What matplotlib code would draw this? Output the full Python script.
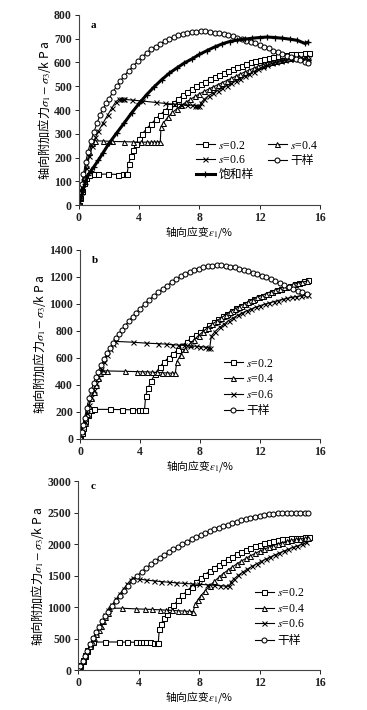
import matplotlib
matplotlib.use('Agg')
from matplotlib import pyplot as plt

plt.rcParams['font.family'] = ['Liberation Serif', 'Noto Sans CJK SC']
plt.rcParams['mathtext.fontset'] = 'stix'

# ---- panel a ----
a_s02_x = [0, 0.1, 0.2, 0.35, 0.5, 0.7, 1.0, 1.3, 1.9, 2.6, 2.95, 3.1, 3.2,
           3.3, 3.45, 3.6, 3.8, 4.0, 4.2, 4.5, 4.8, 5.1, 5.4, 5.7, 6.0, 6.3, 6.6, 6.9,
           7.2, 7.5, 7.8, 8.1, 8.4, 8.7, 9.0, 9.3, 9.6, 9.9, 10.2, 10.5, 10.8, 11.1,
           11.4, 11.7, 12.0, 12.3, 12.6, 12.9, 13.2, 13.5, 13.8, 14.1, 14.4, 14.7, 15.0, 15.3]
a_s02_y = [0, 30, 60, 95, 115, 126, 130, 130, 131, 129, 130, 131, 132,
           175, 205, 232, 258, 280, 300, 322, 342, 362, 380, 398, 415, 430, 447, 463,
           476, 490, 500, 510, 520, 530, 539, 548, 556, 564, 572, 580, 587, 594,
           600, 606, 611, 616, 620, 624, 627, 630, 632, 634, 636, 637, 638, 638]

a_s04_x = [0, 0.1, 0.2, 0.35, 0.5, 0.7, 0.85, 1.1, 1.6, 2.2, 3.0, 3.6, 4.1, 4.5,
           4.8, 5.0, 5.2, 5.4, 5.45, 5.6, 5.9, 6.2, 6.5, 6.8, 7.1, 7.4, 7.7, 8.0, 8.3,
           8.6, 8.9, 9.2, 9.5, 9.8, 10.1, 10.4, 10.7, 11.0, 11.3, 11.6, 11.9, 12.2,
           12.5, 12.8, 13.1, 13.4, 13.7, 14.0, 14.3, 14.6, 14.9, 15.2]
a_s04_y = [0, 35, 70, 120, 170, 225, 262, 270, 270, 268, 267, 266, 265, 265,
           265, 265, 265, 267, 330, 345, 370, 390, 405, 420, 433, 445, 457, 468, 478,
           488, 497, 506, 515, 524, 533, 542, 551, 560, 568, 576, 584, 591,
           597, 603, 608, 612, 616, 619, 621, 622, 622, 621]

a_s06_x = [0, 0.15, 0.3, 0.5, 0.7, 0.9, 1.1, 1.3, 1.6, 1.9, 2.2, 2.45, 2.65,
           2.8, 2.9, 3.0, 3.5, 4.2, 5.1, 5.7, 6.3, 6.8, 7.2, 7.5, 7.7, 7.85, 8.0,
           8.1, 8.3, 8.6, 8.9, 9.2, 9.5, 9.8, 10.1, 10.4, 10.7, 11.0, 11.3, 11.6,
           11.9, 12.2, 12.5, 12.8, 13.1, 13.4, 13.7, 14.0, 14.3, 14.6, 14.9, 15.2]
a_s06_y = [0, 55, 100, 155, 205, 250, 285, 312, 345, 378, 410, 435, 445,
           446, 446, 445, 442, 438, 432, 428, 425, 423, 421, 420, 419, 418, 417,
           430, 445, 460, 472, 482, 492, 502, 512, 522, 532, 542, 552, 562,
           572, 581, 589, 596, 602, 607, 611, 614, 616, 617, 616, 614]

a_dry_x = [0, 0.1, 0.2, 0.3, 0.45, 0.6, 0.8, 1.0, 1.2, 1.4, 1.6, 1.8, 2.0, 2.25,
           2.5, 2.75, 3.0, 3.3, 3.6, 3.9, 4.2, 4.5, 4.8, 5.1, 5.4, 5.7, 6.0, 6.3,
           6.6, 6.9, 7.2, 7.5, 7.8, 8.1, 8.4, 8.7, 9.0, 9.3, 9.6, 9.9, 10.2, 10.5,
           10.8, 11.1, 11.4, 11.7, 12.0, 12.3, 12.6, 12.9, 13.2, 13.5, 13.8, 14.1,
           14.4, 14.7, 15.0, 15.2]
a_dry_y = [0, 45, 90, 130, 180, 225, 270, 308, 345, 378, 405, 428, 448, 475,
           500, 522, 543, 565, 585, 605, 623, 640, 655, 667, 678, 690, 700, 708,
           715, 721, 726, 729, 730, 731, 731, 729, 725, 722, 719, 715, 710, 704,
           698, 692, 686, 680, 674, 667, 659, 650, 643, 636, 629, 622,
           616, 609, 602, 598]

a_sat_x = [0, 0.2, 0.4, 0.6, 0.8, 1.0, 1.3, 1.6, 2.0, 2.5, 3.0, 3.5, 4.0, 4.5,
           5.0, 5.5, 6.0, 6.5, 7.0, 7.5, 8.0, 8.5, 9.0, 9.5, 10.0, 10.5, 11.0, 11.5,
           12.0, 12.5, 13.0, 13.5, 14.0, 14.5, 15.0, 15.2]
a_sat_y = [0, 45, 90, 125, 145, 162, 190, 220, 260, 303, 345, 388, 428, 465,
           498, 528, 555, 577, 598, 615, 634, 650, 665, 678, 688, 694, 698, 702,
           705, 707, 705, 702, 698, 693, 680, 685]

# ---- panel b ----
b_s02_x = [0, 0.1, 0.2, 0.35, 0.5, 0.7, 0.9, 2.0, 2.8, 3.45, 3.9, 4.1, 4.3,
           4.38, 4.55, 4.75, 5.0, 5.3, 5.6, 5.9, 6.2, 6.5, 6.8, 7.1, 7.4, 7.7, 8.0,
           8.3, 8.6, 8.9, 9.2, 9.5, 9.8, 10.1, 10.4, 10.7, 11.0, 11.3, 11.6, 11.9,
           12.2, 12.5, 12.8, 13.1, 13.4, 13.7, 14.0, 14.3, 14.6, 14.9, 15.2]
b_s02_y = [0, 40, 80, 130, 175, 210, 218, 218, 216, 215, 214, 214, 214,
           320, 380, 430, 480, 530, 570, 600, 625, 660, 690, 718, 745, 768, 790,
           815, 840, 862, 885, 907, 928, 948, 967, 985, 1002, 1018, 1034, 1048,
           1062, 1075, 1088, 1100, 1112, 1124, 1135, 1146, 1157, 1168, 1178]

b_s04_x = [0, 0.15, 0.3, 0.45, 0.6, 0.75, 0.9, 1.05, 1.2, 1.35, 1.5, 1.8, 3.0,
           3.8, 4.1, 4.45, 4.8, 5.1, 5.45, 5.8, 6.1, 6.35, 6.45, 6.7, 7.0, 7.3,
           7.6, 7.9, 8.2, 8.5, 8.8, 9.1, 9.4, 9.7, 10.0, 10.3, 10.6, 10.9, 11.2,
           11.5, 11.8, 12.1, 12.4, 12.7, 13.0, 13.3, 13.6, 13.9, 14.2, 14.5, 14.8, 15.1]
b_s04_y = [0, 60, 120, 180, 240, 300, 350, 400, 450, 490, 502, 503, 500,
           498, 497, 496, 494, 492, 490, 488, 486, 485, 570, 620, 665, 700,
           735, 765, 795, 822, 848, 872, 896, 918, 940, 960, 980, 998, 1016,
           1032, 1048, 1062, 1076, 1090, 1102, 1114, 1125, 1135, 1144, 1153, 1161, 1168]

b_s06_x = [0, 0.15, 0.3, 0.45, 0.6, 0.75, 0.9, 1.05, 1.2, 1.4, 1.6, 1.8, 2.0,
           2.2, 2.35, 3.5, 4.4, 5.2, 5.7, 6.1, 6.5, 6.9, 7.3, 7.7, 8.0, 8.3, 8.55,
           8.65, 8.75, 9.0, 9.3, 9.6, 9.9, 10.2, 10.5, 10.8, 11.1, 11.4, 11.7, 12.0,
           12.3, 12.6, 12.9, 13.2, 13.5, 13.8, 14.1, 14.4, 14.7, 15.0, 15.2]
b_s06_y = [0, 60, 125, 190, 250, 310, 365, 415, 460, 515, 570, 620, 665,
           705, 722, 716, 709, 705, 702, 698, 695, 692, 689, 686, 683, 680, 676,
           674, 760, 795, 825, 850, 875, 895, 915, 932, 948, 962, 975, 987,
           997, 1007, 1016, 1025, 1033, 1041, 1048, 1054, 1059, 1063, 1065]

b_dry_x = [0, 0.1, 0.2, 0.3, 0.45, 0.6, 0.75, 0.9, 1.05, 1.2, 1.4, 1.6, 1.8,
           2.0, 2.2, 2.4, 2.6, 2.8, 3.0, 3.25, 3.5, 3.75, 4.0, 4.3, 4.6, 4.9, 5.2,
           5.5, 5.8, 6.1, 6.4, 6.7, 7.0, 7.3, 7.6, 7.9, 8.2, 8.5, 8.8, 9.1, 9.4,
           9.7, 10.0, 10.3, 10.6, 10.9, 11.2, 11.5, 11.8, 12.1, 12.4, 12.7, 13.0,
           13.3, 13.6, 13.9, 14.2, 14.5, 14.8, 15.1]
b_dry_y = [0, 50, 100, 155, 225, 300, 360, 410, 455, 495, 545, 590, 635,
           675, 712, 745, 778, 808, 838, 872, 905, 935, 965, 998, 1030, 1058, 1085,
           1110, 1135, 1160, 1182, 1203, 1220, 1237, 1250, 1262, 1272, 1280, 1284,
           1286, 1285, 1282, 1277, 1270, 1262, 1252, 1242, 1232, 1222, 1210, 1196,
           1182, 1168, 1154, 1140, 1126, 1112, 1098, 1085, 1075]

# ---- panel c ----
c_s02_x = [0, 0.15, 0.3, 0.45, 0.6, 0.8, 1.0, 1.8, 2.7, 3.2, 3.8, 4.1, 4.3,
           4.5, 4.75, 5.0, 5.2, 5.3, 5.37, 5.5, 5.7, 5.9, 6.1, 6.3, 6.6, 6.9, 7.2,
           7.5, 7.8, 8.1, 8.4, 8.7, 9.0, 9.3, 9.6, 9.9, 10.2, 10.5, 10.8, 11.1,
           11.4, 11.7, 12.0, 12.3, 12.6, 12.9, 13.2, 13.5, 13.8, 14.1, 14.4, 14.7,
           15.0, 15.3]
c_s02_y = [0, 80, 160, 240, 320, 400, 445, 450, 448, 446, 445, 444, 443,
           442, 441, 440, 438, 437, 660, 740, 830, 900, 970, 1030, 1110, 1190, 1260,
           1330, 1400, 1460, 1520, 1575, 1625, 1675, 1720, 1765, 1805, 1845, 1880,
           1912, 1942, 1970, 1995, 2018, 2038, 2055, 2070, 2082, 2092, 2100, 2105,
           2108, 2110, 2112]

c_s04_x = [0, 0.15, 0.3, 0.45, 0.6, 0.75, 0.9, 1.05, 1.2, 1.35, 1.5, 1.65,
           1.8, 1.95, 2.05, 2.9, 3.8, 4.4, 4.9, 5.4, 5.8, 6.2, 6.6, 7.0, 7.3, 7.6,
           7.75, 7.9, 8.1, 8.4, 8.7, 9.0, 9.3, 9.6, 9.9, 10.2, 10.5, 10.8, 11.1,
           11.4, 11.7, 12.0, 12.3, 12.6, 12.9, 13.2, 13.5, 13.8, 14.1, 14.4, 14.7,
           15.0, 15.2]
c_s04_y = [0, 70, 150, 230, 310, 380, 450, 515, 580, 645, 710, 775,
           840, 910, 985, 985, 975, 970, 965, 960, 955, 950, 945, 940, 935, 930,
           1050, 1110, 1180, 1260, 1340, 1410, 1475, 1535, 1590, 1640, 1690, 1735,
           1778, 1818, 1855, 1890, 1922, 1952, 1980, 2005, 2028, 2048, 2064, 2077,
           2087, 2093, 2095]

c_s06_x = [0, 0.15, 0.3, 0.45, 0.6, 0.8, 1.0, 1.2, 1.4, 1.6, 1.8, 2.0, 2.25,
           2.5, 2.75, 3.0, 3.25, 3.5, 3.65, 4.0, 4.5, 5.0, 5.5, 6.0, 6.5, 7.0, 7.5,
           8.0, 8.5, 9.0, 9.4, 9.7, 10.0, 10.1, 10.3, 10.6, 10.9, 11.2, 11.5, 11.8,
           12.1, 12.4, 12.7, 13.0, 13.3, 13.6, 13.9, 14.2, 14.5, 14.8, 15.1]
c_s06_y = [0, 70, 150, 230, 310, 415, 515, 610, 700, 790, 870, 950, 1040,
           1125, 1210, 1290, 1370, 1440, 1470, 1450, 1432, 1420, 1408, 1398, 1388,
           1380, 1372, 1365, 1358, 1350, 1343, 1338, 1332, 1400, 1450, 1510, 1560,
           1608, 1650, 1690, 1728, 1764, 1798, 1830, 1862, 1893, 1922, 1950, 1975,
           2000, 2030]

c_dry_x = [0, 0.15, 0.3, 0.45, 0.6, 0.8, 1.0, 1.2, 1.4, 1.6, 1.8, 2.0, 2.25,
           2.5, 2.75, 3.0, 3.3, 3.6, 3.9, 4.2, 4.5, 4.8, 5.1, 5.4, 5.7, 6.0, 6.3,
           6.6, 6.9, 7.2, 7.5, 7.8, 8.1, 8.4, 8.7, 9.0, 9.3, 9.6, 9.9, 10.2, 10.5,
           10.8, 11.1, 11.4, 11.7, 12.0, 12.3, 12.6, 12.9, 13.2, 13.5, 13.8, 14.1,
           14.4, 14.7, 15.0, 15.2]
c_dry_y = [0, 70, 150, 230, 310, 410, 505, 600, 690, 775, 855, 930, 1020,
           1105, 1185, 1260, 1345, 1425, 1500, 1565, 1625, 1680, 1735, 1785, 1835,
           1880, 1925, 1965, 2005, 2045, 2080, 2115, 2150, 2180, 2210, 2240, 2265,
           2290, 2315, 2338, 2360, 2380, 2400, 2420, 2440, 2455, 2468, 2478, 2486,
           2492, 2497, 2500, 2502, 2504, 2505, 2505, 2505]

labels = ['$s$=0.2', '$s$=0.4', '$s$=0.6', '干样', '饱和样']
xlabel = '轴向应变$\\varepsilon_1$/%'
ylabel = '轴向附加应力$\\sigma_1 - \\sigma_3$/k P a'
cjk = 'Noto Sans CJK SC'


def draw_series(ax, xs, ys, marker, label):
    return ax.plot(xs, ys, color='black', lw=0.8, marker=marker, ms=3.6,
                   mfc='white', mec='black', mew=0.75, label=label)[0]


def style_axes(ax, ymax, ystep, letter, ly):
    ax.set_xlim(0, 16)
    ax.set_ylim(0, ymax)
    ax.set_xticks(range(0, 17, 4))
    ax.set_yticks(range(0, ymax + 1, ystep))
    for side in ['top', 'right']:
        ax.spines[side].set_visible(False)
    for side in ['left', 'bottom']:
        ax.spines[side].set_color('#444444')
        ax.spines[side].set_linewidth(0.8)
    ax.tick_params(direction='out', length=3, width=0.7, labelsize=8.5, pad=2, colors='#222222')
    for lab in ax.get_xticklabels() + ax.get_yticklabels():
        lab.set_fontweight('bold')
    ax.set_xlabel(xlabel, fontfamily=cjk, fontsize=7.8, labelpad=0)
    ax.set_ylabel(ylabel, fontfamily=cjk, fontsize=8.8, labelpad=1)
    ax.text(0.05, ly, letter, transform=ax.transAxes, fontsize=8, fontweight='bold',
            va='center', ha='left')


def fix_legend(leg):
    for t in leg.get_texts():
        if '样' in t.get_text():
            t.set_fontfamily(cjk)


fig = plt.figure(figsize=(3.67, 7.10), dpi=100)
ax_a = fig.add_axes([0.215, 0.711, 0.657, 0.268])
ax_b = fig.add_axes([0.218, 0.382, 0.654, 0.266])
ax_c = fig.add_axes([0.213, 0.056, 0.659, 0.266])

# panel a
ha = [draw_series(ax_a, a_s02_x, a_s02_y, 's', labels[0]),
      draw_series(ax_a, a_s04_x, a_s04_y, '^', labels[1]),
      draw_series(ax_a, a_s06_x, a_s06_y, 'x', labels[2]),
      draw_series(ax_a, a_dry_x, a_dry_y, 'o', labels[3])]
sat, = ax_a.plot(a_sat_x, a_sat_y, color='black', lw=2.2, marker='+', ms=4,
                 mew=0.9, label=labels[4])
style_axes(ax_a, 800, 100, 'a', 0.945)
order = [ha[0], ha[2], sat, ha[1], ha[3]]
leg = ax_a.legend(order, [h.get_label() for h in order], ncol=2, frameon=False,
                  loc='upper left', bbox_to_anchor=(0.485, 0.345), fontsize=8.5,
                  handlelength=1.6, handletextpad=0.3, columnspacing=1.2,
                  labelspacing=0.2, borderpad=0, borderaxespad=0)
fix_legend(leg)

# panel b
for xs, ys, m, lab in [(b_s02_x, b_s02_y, 's', labels[0]), (b_s04_x, b_s04_y, '^', labels[1]),
                       (b_s06_x, b_s06_y, 'x', labels[2]), (b_dry_x, b_dry_y, 'o', labels[3])]:
    draw_series(ax_b, xs, ys, m, lab)
style_axes(ax_b, 1400, 200, 'b', 0.945)
leg = ax_b.legend(frameon=False, loc='upper left', bbox_to_anchor=(0.6, 0.43), fontsize=8.5,
                  handlelength=1.6, handletextpad=0.3, labelspacing=0.3,
                  borderpad=0, borderaxespad=0)
fix_legend(leg)

# panel c
for xs, ys, m, lab in [(c_s02_x, c_s02_y, 's', labels[0]), (c_s04_x, c_s04_y, '^', labels[1]),
                       (c_s06_x, c_s06_y, 'x', labels[2]), (c_dry_x, c_dry_y, 'o', labels[3])]:
    draw_series(ax_c, xs, ys, m, lab)
style_axes(ax_c, 3000, 500, 'c', 0.975)
leg = ax_c.legend(frameon=False, loc='upper left', bbox_to_anchor=(0.73, 0.44), fontsize=8.5,
                  handlelength=1.6, handletextpad=0.3, labelspacing=0.3,
                  borderpad=0, borderaxespad=0)
fix_legend(leg)

fig.savefig('out.png', dpi=100)
